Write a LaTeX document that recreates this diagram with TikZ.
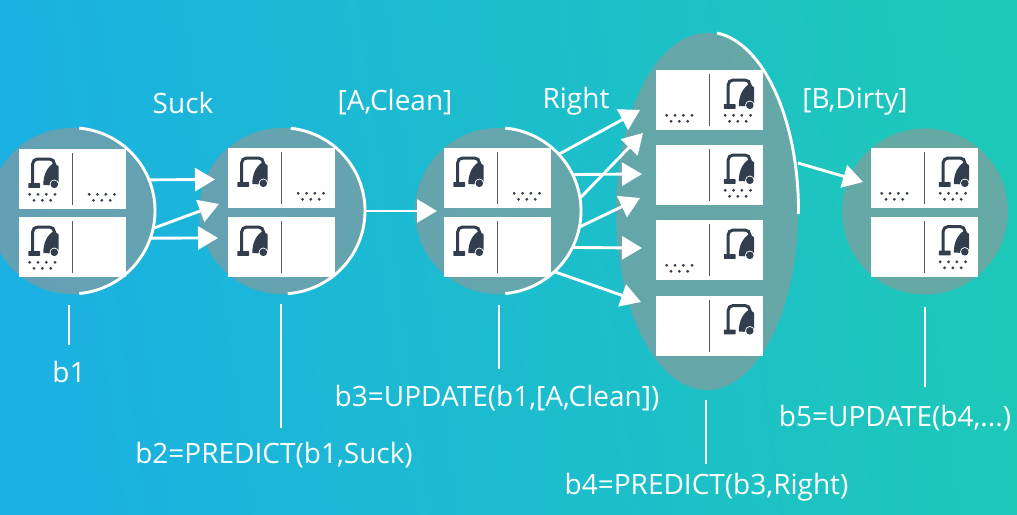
\documentclass[tikz,border=0pt]{standalone}
\usepackage{fontspec}
\setmainfont{Open Sans}
\usepackage{tikz}
\usetikzlibrary{arrows.meta,shapes.geometric}
\definecolor{bgleft}{RGB}{27,177,226}
\definecolor{bgright}{RGB}{29,200,185}
\definecolor{beliefgray}{RGB}{150,150,150}
\definecolor{glyphcolor}{RGB}{50,62,77}
\newcommand{\edgewidth}{2.9pt}
\newcommand{\statebox}[3]{
\node[cellbox] (#1) at (#2,#3) {};
\draw[divider] ([yshift=-4.3pt]#1.north) -- ([yshift=4.3pt]#1.south);
}
\tikzset{
belief/.style={circle,fill=beliefgray,fill opacity=0.6,inner sep=0pt,minimum size=166pt},
cellbox/.style={rectangle,fill=white,inner sep=0pt,minimum width=107pt,minimum height=60pt,anchor=north west},
divider/.style={draw=glyphcolor!85,line width=0.9pt},
edge/.style={draw=white,line width=\edgewidth},
arr/.style={edge,-{Triangle[length=20pt,width=23pt]}},
lab/.style={text=white,inner sep=0pt,font=\fontsize{28}{32}\selectfont},
vac/.pic={
\fill[glyphcolor,rounded corners=0.6pt] (9.3,34) rectangle (21,38.9);
\draw[glyphcolor,line width=3pt,rounded corners=5pt] (13.6,35) -- (13.6,10) -- (35.5,10) -- (35.5,17);
\fill[glyphcolor] (24.3,36) .. controls (24.3,26) and (28,18) .. (35,14) -- (39.7,17.5) -- (39.7,33) -- (30,36.3) -- cycle;
\fill[white] (35.3,35.3) circle (4.7);
\fill[glyphcolor] (35.3,35.3) circle (3.8);
},
dust/.pic={
\fill[glyphcolor] (10.7,45.3) circle (1.55);
\fill[glyphcolor] (19,45.3) circle (1.55);
\fill[glyphcolor] (27.3,45.3) circle (1.55);
\fill[glyphcolor] (36,45.3) circle (1.55);
\fill[glyphcolor] (15,51.3) circle (1.55);
\fill[glyphcolor] (23.3,51.3) circle (1.55);
\fill[glyphcolor] (31.7,51.3) circle (1.55);
}
}
\begin{document}
\begin{tikzpicture}[x=1pt,y=-1pt]
\useasboundingbox (0,0) rectangle (1017,514);
\shade[left color=bgleft,right color=bgright,shading angle=98] (0,0) rectangle (1017,514);
% belief states
\node[belief] (b1) at (72,211) {};
\node[belief] (b2) at (282,211) {};
\node[belief] (b3) at (498,211) {};
\node[belief,ellipse,minimum width=182pt,minimum height=357pt] (b4) at (707,211.5) {};
\node[belief] (b5) at (925,211.5) {};
\draw[edge] (b1.85) arc[start angle=85,end angle=-85,radius=83pt];
\draw[edge] (b2.84) arc[start angle=84,end angle=-86,radius=83pt];
\draw[edge] (b3.85) arc[start angle=85,end angle=-85,radius=83pt];
\draw[edge] (717,33) arc[start angle=84,end angle=-1,x radius=91pt,y radius=179pt];
% b1
\statebox{b1a}{19}{149}
\statebox{b1b}{19}{217}
\pic at (b1a.north west) {vac};
\pic at (b1a.north west) {dust};
\pic[xshift=59.5pt] at (b1a.north west) {dust};
\pic at (b1b.north west) {vac};
\pic at (b1b.north west) {dust};
% b2
\statebox{b2a}{228}{148}
\statebox{b2b}{228}{217}
\pic at (b2a.north west) {vac};
\pic[xshift=59.5pt] at (b2a.north west) {dust};
\pic at (b2b.north west) {vac};
% b3
\statebox{b3a}{444}{148}
\statebox{b3b}{444}{217}
\pic at (b3a.north west) {vac};
\pic[xshift=59.5pt] at (b3a.north west) {dust};
\pic at (b3b.north west) {vac};
% b4
\statebox{b4a}{656}{70}
\statebox{b4b}{656}{145}
\statebox{b4c}{656}{220}
\statebox{b4d}{656}{295.5}
\pic at (b4a.north west) {dust};
\pic[xshift=58.5pt] at (b4a.north west) {vac};
\pic[xshift=58.5pt] at (b4a.north west) {dust};
\pic[xshift=58.5pt] at (b4b.north west) {vac};
\pic[xshift=58.5pt] at (b4b.north west) {dust};
\pic at (b4c.north west) {dust};
\pic[xshift=58.5pt] at (b4c.north west) {vac};
\pic[xshift=58.5pt] at (b4d.north west) {vac};
% b5
\statebox{b5a}{871}{148}
\statebox{b5b}{871}{216.5}
\pic at (b5a.north west) {dust};
\pic[xshift=58.5pt] at (b5a.north west) {vac};
\pic[xshift=58.5pt] at (b5a.north west) {dust};
\pic[xshift=58.5pt] at (b5b.north west) {vac};
\pic[xshift=58.5pt] at (b5b.north west) {dust};
% arrow heads
\coordinate (t1) at (215,179.5);
\coordinate (t2) at (219,204);
\coordinate (t3) at (218,238);
\coordinate (t4) at (437,211);
\coordinate (t5) at (640,110);
\coordinate (t6) at (643,133);
\coordinate (t7) at (642,174);
\coordinate (t8) at (640,198);
\coordinate (t9) at (642,248);
\coordinate (t10) at (641,302);
\coordinate (t11) at (863,182);
\coordinate (s11) at (798,163);
\draw[arr] (b1.22.4) -- (t1);
\draw[arr] (b1.-12) -- (t2);
\draw[arr] (b1.-19) -- (t3);
\draw[arr] (b2.east) -- (t4);
\draw[arr] (b3.43) -- (t5);
\draw[arr] (b3.9) -- (t6);
\draw[arr] (b3.26.5) -- (t7);
\draw[arr] (b3.-11) -- (t8);
\draw[arr] (b3.-26.5) -- (t9);
\draw[arr] (b3.-47) -- (t10);
\draw[arr] (s11) -- (t11);
% action and percept labels
\node[lab] (suck) at (183,103) {Suck};
\node[lab] (clean) at (395,102) {[A,Clean]};
\node[lab] (right) at (576,101.5) {Right};
\node[lab] (dirty) at (855,102) {[B,Dirty]};
% leaders
\coordinate (l1a) at (69,305);
\coordinate (l1b) at (69,345);
\coordinate (l2a) at (281,304);
\coordinate (l2b) at (281,428);
\coordinate (l3a) at (499,305);
\coordinate (l3b) at (499,369);
\coordinate (l4a) at (706,400);
\coordinate (l4b) at (706,464);
\coordinate (l5a) at (925,307);
\coordinate (l5b) at (925,387);
\draw[edge] (l1a) -- (l1b);
\draw[edge] (l2a) -- (l2b);
\draw[edge] (l3a) -- (l3b);
\draw[edge] (l4a) -- (l4b);
\draw[edge] (l5a) -- (l5b);
\node[lab] (t_b1) at (69,372) {b1};
\node[lab] (t_b2) at (274,455) {b2=PREDICT(b1,Suck)};
\node[lab] (t_b3) at (497,398) {b3=UPDATE(b1,[A,Clean])};
\node[lab] (t_b4) at (706.5,487) {b4=PREDICT(b3,Right)};
\node[lab] (t_b5) at (895,418) {b5=UPDATE(b4,...)};
\end{tikzpicture}
\end{document}
